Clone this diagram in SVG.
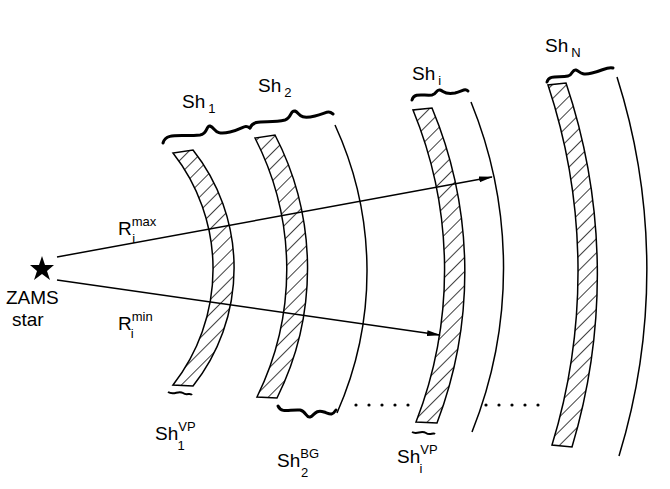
<svg xmlns="http://www.w3.org/2000/svg" width="670" height="489" viewBox="0 0 670 489">
<style>
.l{fill:none;stroke:#000;stroke-width:1.5}
.b{fill:none;stroke:#000;stroke-width:3;stroke-linecap:round}
.bt{fill:none;stroke:#000;stroke-width:2}
.h{fill:url(#hat);stroke:#000;stroke-width:1.5}
text{font-family:"Liberation Sans",Arial,sans-serif;font-size:19px;fill:#000}
.s{font-size:13px}
</style>
<defs>
<pattern id="hat" patternUnits="userSpaceOnUse" width="10" height="10" patternTransform="rotate(45)">
<line x1="0" y1="0" x2="0" y2="10" stroke="#000" stroke-width="1.5"/>
</pattern>
<marker id="ar" markerWidth="14" markerHeight="8" refX="13" refY="4" orient="auto" markerUnits="userSpaceOnUse">
<path d="M0,1 L14,4 L0,7 Z" fill="#000"/>
</marker>
</defs>
<g id="star"><path d="M42,256 L45,265 L54,265 L47,271 L50,280 L42,274 L34,280 L37,271 L30,265 L39,265 Z" fill="#000"/>
<text x="6" y="304">ZAMS</text><text x="12" y="326">star</text></g>
<g id="sh1">
<path class="h" d="M173,153 A188,188 0 0 1 173,385 L193,386 A190,190 0 0 0 193,150 Z"/>
<path class="b" d="M163,143 C166,132 180,137 200,135 C208,134 206,125 210,126 C216,128 214,136 230,132 C244,129 244,124 250,128"/>
<text x="182" y="108">Sh<tspan class="s" dx="3" dy="5">1</tspan></text>
<path class="bt" d="M168,392 C174,396 178,390 183,393 C187,396 190,392 192,395"/>
<text x="155" y="440">Sh<tspan class="s" dy="-9">VP</tspan><tspan class="s" dx="-18" dy="19">1</tspan></text>
</g>
<g id="sh2">
<path class="h" d="M255,138 A288,288 0 0 1 257,397 L277,398 A290,290 0 0 0 275,135 Z"/>
<path class="l" d="M335,125 A350,350 0 0 1 337,413"/>
<path class="b" d="M250,128 C254,118 268,124 285,120 C292,118 290,110 295,111 C300,113 298,120 315,116 C327,113 328,110 333,114"/>
<text x="258" y="92">Sh<tspan class="s" dx="3" dy="5">2</tspan></text>
<path class="b" d="M278,406 C282,414 290,409 300,410 C306,411 306,418 310,417 C314,416 315,409 324,412 C330,414 332,416 336,410"/>
<text x="277" y="467">Sh<tspan class="s" dy="-9">BG</tspan><tspan class="s" dx="-18" dy="19">2</tspan></text>
</g>
<g id="shi">
<path class="h" d="M413,110 A420,420 0 0 1 416,422 L437,423 A425,425 0 0 0 432,108 Z"/>
<path class="l" d="M471,102 A441,441 0 0 1 472,432"/>
<path class="b" d="M412,100 C414,92 424,96 432,95 C437,94 436,89 440,90 C444,91 444,95 455,93 C463,91 465,88 468,91"/>
<text x="412" y="80">Sh<tspan class="s" dx="3" dy="5">i</tspan></text>
<path class="bt" d="M412,432 C417,435 421,430 426,433 C430,436 433,432 435,434"/>
<text x="397" y="463">Sh<tspan class="s" dy="-9">VP</tspan><tspan class="s" dx="-18" dy="19">i</tspan></text>
</g>
<g id="shN">
<path class="h" d="M548,85 A593,593 0 0 1 552,445 L572,447 A600,600 0 0 0 566,83 Z"/>
<path class="l" d="M617,77 A637,637 0 0 1 619,456"/>
<path class="b" d="M547,82 C549,74 560,78 568,76 C573,75 572,69 576,70 C580,71 580,76 592,73 C602,71 608,66 613,68"/>
<text x="545" y="52">Sh<tspan class="s" dx="3" dy="5">N</tspan></text>
</g>
<g id="connectors">
<line class="l" x1="57" y1="257" x2="492" y2="177" marker-end="url(#ar)"/>
<line class="l" x1="57" y1="280" x2="440" y2="335" marker-end="url(#ar)"/>
<text x="118" y="235">R<tspan class="s" dy="-9">max</tspan><tspan class="s" dx="-24" dy="17">i</tspan></text>
<text x="118" y="330">R<tspan class="s" dy="-9">min</tspan><tspan class="s" dx="-22" dy="17">i</tspan></text>
<g fill="#000"><circle cx="356" cy="405" r="1.6"/><circle cx="369" cy="405" r="1.6"/><circle cx="382" cy="405" r="1.6"/><circle cx="395" cy="405" r="1.6"/><circle cx="408" cy="405" r="1.6"/>
<circle cx="486" cy="405" r="1.6"/><circle cx="499" cy="405" r="1.6"/><circle cx="512" cy="405" r="1.6"/><circle cx="525" cy="405" r="1.6"/><circle cx="538" cy="405" r="1.6"/></g>
</g>
</svg>
